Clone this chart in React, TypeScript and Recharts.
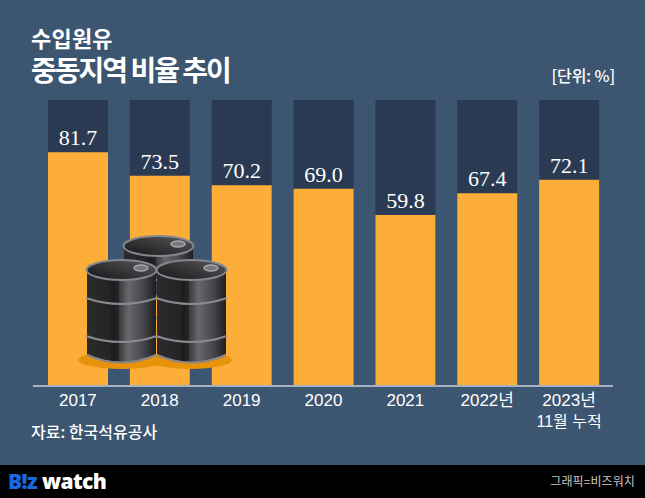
import { BarChart, Bar, XAxis, YAxis, LabelList } from "recharts";

const years = ["2017", "2018", "2019", "2020", "2021", "2022년", "2023년"];
const tickNotes = ["", "", "", "", "", "", "11월 누적"];
const shares = [81.7, 73.5, 70.2, 69.0, 59.8, 67.4, 72.1];

const chartData = years.map((year, i) => ({ year, note: tickNotes[i], share: shares[i] }));

const KR = '"Noto Sans CJK KR", "Noto Sans", sans-serif';
const TICK = '"Liberation Sans", "Noto Sans CJK KR", sans-serif';

const YearTick = ({ x, y, payload, index }: any) => (
  <text x={x} y={y} textAnchor="middle" fill="#fff" fontFamily={TICK} fontSize={17}>
    <tspan x={x} dy={12}>{payload.value}</tspan>
    {tickNotes[index] && <tspan x={x} dy={21} fontSize={16}>{tickNotes[index]}</tspan>}
  </text>
);

// decorative oil drum, drawn at (x, y) = top-left
const Drum = ({ x, y, h = 103 }: { x: number; y: number; h?: number }) => (
  <g transform={`translate(${x} ${y})`}>
    <path d={`M1 10 V${h - 9} Q35 ${h + 7} 70 ${h - 9} V10 Z`} fill="url(#drumBody)" />
    <rect x="25" y="10" width="8" height={h - 12} fill="#1a1a1c" opacity={0.6} />
    <path d="M0 38 Q35 50 71 38" fill="none" stroke="#8a8c90" strokeWidth={2} />
    <path d="M0 76 Q35 88 71 76" fill="none" stroke="#8a8c90" strokeWidth={2} />
    <path d={`M1 ${h - 8} Q35 ${h + 7} 70 ${h - 8}`} fill="none" stroke="#85878b" strokeWidth={2} />
    <ellipse cx="35.5" cy="10" rx="35" ry="10" fill="url(#drumTop)" stroke="#85888d" strokeWidth={2} />
    <ellipse cx="55" cy="8" rx="7" ry="3" fill="#77797d" stroke="#a5a7ab" strokeWidth={1.5} />
  </g>
);

const Drums = () => (
  <svg width={645} height={498} style={{ position: "absolute", left: 0, top: 0 }}>
    <defs>
      <linearGradient id="drumBody" x1="0" x2="1" y1="0" y2="0">
        <stop offset="0" stopColor="#2b2b2e" />
        <stop offset="0.4" stopColor="#232325" />
        <stop offset="0.6" stopColor="#66686c" />
        <stop offset="0.8" stopColor="#48494d" />
        <stop offset="1" stopColor="#1f1f21" />
      </linearGradient>
      <linearGradient id="drumTop" x1="0" x2="1" y1="1" y2="0">
        <stop offset="0" stopColor="#151516" />
        <stop offset="1" stopColor="#58595c" />
      </linearGradient>
    </defs>
    <ellipse cx="122" cy="360" rx="44" ry="9" fill="#e8930c" />
    <ellipse cx="190" cy="360" rx="42" ry="9" fill="#e8930c" />
    <Drum x={123} y={236} h={60} />
    <Drum x={86} y={260} />
    <Drum x={156} y={260} />
  </svg>
);

export default function App() {
  return (
    <div
      style={{
        position: "absolute",
        left: 0,
        top: 0,
        width: 645,
        height: 498,
        background: "#3c5570",
        overflow: "hidden",
        fontFamily: KR,
        color: "#fff",
      }}
    >
      <div style={{ position: "absolute", left: 31, top: 25, fontSize: 22, fontWeight: 700, letterSpacing: 0.2, lineHeight: "24px" }}>
        수입원유
      </div>
      <div style={{ position: "absolute", left: 31, top: 53, fontSize: 28, fontWeight: 700, letterSpacing: -2, lineHeight: "32px" }}>
        중동지역 비율 추이
      </div>
      <div style={{ position: "absolute", right: 30, top: 64, fontSize: 16, fontWeight: 500, letterSpacing: -0.1, lineHeight: "22px" }}>[단위: %]</div>

      <BarChart
        width={645}
        height={498}
        data={chartData}
        margin={{ top: 100, right: 32, bottom: 52, left: 33 }}
        style={{ position: "absolute", left: 0, top: 0 }}
      >
        <YAxis hide domain={[0, 100]} />
        <XAxis
          dataKey="year"
          height={60}
          interval={0}
          padding={{ left: 4, right: 3 }}
          tickLine={false}
          axisLine={{ stroke: "#a6b2c0", strokeWidth: 2 }}
          tick={<YearTick />}
        />
        <Bar
          dataKey="share"
          barSize={60}
          fill="#fdae38"
          background={{ fill: "#2a3a52" }}
          isAnimationActive={false}
        >
          <LabelList
            dataKey="share"
            position="top"
            offset={7}
            formatter={(v: number) => v.toFixed(1)}
            fill="#fff"
            fontSize={22}
            fontFamily='"Liberation Serif", serif'
          />
        </Bar>
      </BarChart>

      <Drums />

      <div style={{ position: "absolute", left: 31, top: 420, fontSize: 16, fontWeight: 500, lineHeight: "22px" }}>자료: 한국석유공사</div>

      <div style={{ position: "absolute", left: 0, top: 465, width: 645, height: 33, background: "#000" }}>
        <div style={{ position: "absolute", left: 8, top: 1, fontFamily: '"Open Sans", sans-serif', fontWeight: 800, fontSize: 21, lineHeight: "30px", letterSpacing: -0.6, whiteSpace: "nowrap" }}>
          <span style={{ color: "#1668e3" }}>B!z</span> <span>watch</span>
        </div>
        <div style={{ position: "absolute", right: 10, top: 6, fontSize: 12, letterSpacing: 0.1, lineHeight: "20px", color: "#c8c8c8" }}>그래픽=비즈워치</div>
      </div>
    </div>
  );
}
